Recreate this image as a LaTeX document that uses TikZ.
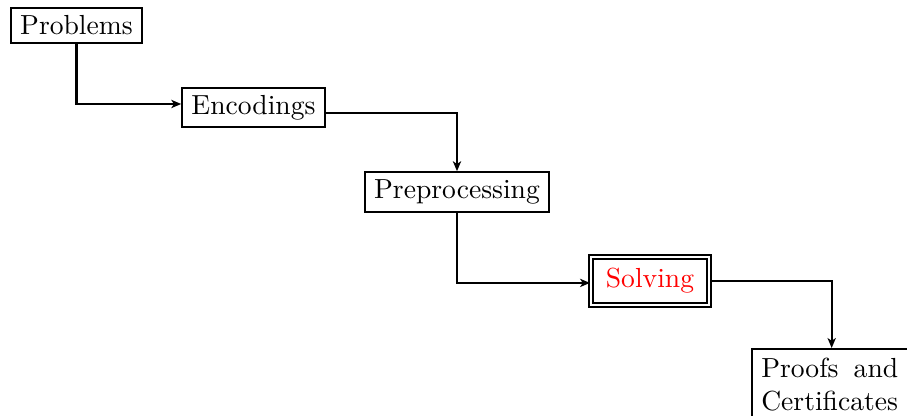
\documentclass[tikz,border=0pt]{standalone}
\usetikzlibrary{arrows.meta}
\begin{document}
\begin{tikzpicture}[x={(0.36232pt,0)},y={(0,-0.36232pt)},
  box/.style={draw=black,thick,rectangle,inner xsep=3.333pt,inner ysep=2.7pt},
  solvebox/.style={draw=black,thick,double,double distance=0.6pt,rectangle,text=red,minimum width=42.7pt,minimum height=17.4pt,inner sep=0pt},
  link/.style={thick,-{Stealth[length=3.6pt,width=3pt,inset=1pt]}}]
\useasboundingbox (0,0) rectangle (907,416);
\node[box] (problems) at (76.5,25.5) {Problems};
\node[box] (encodings) at (253.5,107.5) {Encodings};
\node[box] (preprocessing) at (457,192) {Preprocessing};
\node[solvebox] (solving) at (650,281) {Solving};
\node[box,anchor=north west,text width=51pt,align=left,inner ysep=3.333pt] (proofs) at (751,348) {\baselineskip=11pt\makebox[49.6pt][l]{Proofs\hfill and}\\Certificates};
\draw[link] (problems.south) |- ([yshift=1.27pt]encodings.west);
\draw[link] ([yshift=-2pt]encodings.east) -| (preprocessing.north);
\draw[link] (preprocessing.south) |- ([yshift=-0.7pt]solving.west);
\draw[link] (solving.east) -| (proofs.north);
\end{tikzpicture}
\end{document}
